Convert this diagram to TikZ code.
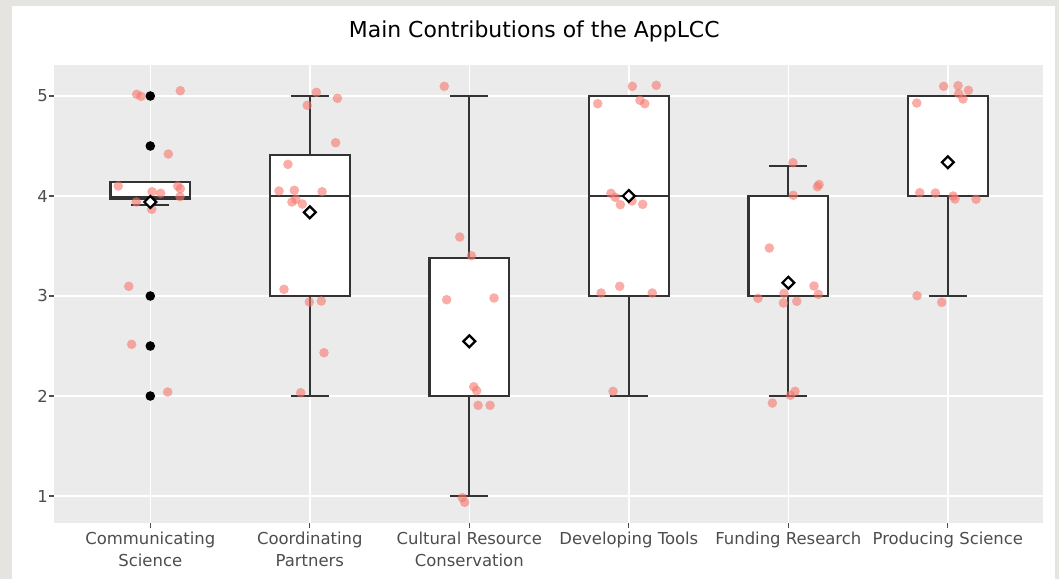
\documentclass[tikz,border=0pt]{standalone}
\usepackage{fontspec}
\setmainfont{DejaVu Sans}
\usepackage{xcolor}
\usetikzlibrary{shapes.geometric}
\definecolor{pagegray}{HTML}{E6E4E0}
\definecolor{panelgray}{HTML}{EBEBEB}
\definecolor{boxgray}{HTML}{333333}
\definecolor{labelgray}{HTML}{4D4D4D}
\definecolor{salmon}{HTML}{F8766D}
\tikzset{
	panel/.style={fill=panelgray},%
	gridline/.style={white,line width=1pt},%
	tickline/.style={labelgray,line width=0.8pt},%
	ylabel/.style={labelgray,anchor=east,inner sep=0pt,font=\fontsize{11.7}{14}\selectfont},%
	xlabel/.style={labelgray,anchor=north,align=center,inner sep=0pt,font=\fontsize{11.7}{15.4}\selectfont},%
	boxline/.style={boxgray,line width=1.6pt,fill=white},%
	whisker/.style={boxgray,line width=1.6pt},%
	jitter/.style={fill=salmon,fill opacity=0.6},%
	outlier/.style={fill=black},%
	meanmark/.style={diamond,draw=black,fill=white,line width=1.6pt,minimum size=0.32cm,inner sep=0pt},%
}
\def\boxhalf{0.25}
\def\caphalf{0.12}
% x, lower whisker, q1, median, q3, upper whisker, mean
\newcommand{\drawbox}[7]{%
	\draw[whisker] (#1,#3) -- (#1,#2) (#1-\caphalf,#2) -- (#1+\caphalf,#2);%
	\draw[whisker] (#1,#5) -- (#1,#6) (#1-\caphalf,#6) -- (#1+\caphalf,#6);%
	\draw[boxline] (#1-\boxhalf,#3) rectangle (#1+\boxhalf,#5);%
	\draw[whisker] (#1-\boxhalf,#4) -- (#1+\boxhalf,#4);%
	\coordinate (mean#1) at (#1,#7);%
}

\begin{document}
\begin{tikzpicture}[x=3.9875cm,y=2.5cm]
	\useasboundingbox[fill=pagegray] (0.0577,0.17) rectangle (6.697,5.96);
	\fill[white] (0.133,0.17) rectangle (6.672,5.90);
	\node[font=\fontsize{15.6}{18}\selectfont,anchor=base] (title) at (3.407,5.583) {Main Contributions of the AppLCC};
	% panel and grid
	\fill[panel] (0.396,0.73) rectangle (6.597,5.31);
	\foreach \v in {1,...,5} {
		\draw[gridline] (0.396,\v) -- (6.597,\v);
		\draw[tickline] (0.368,\v) -- (0.396,\v);
		\node[ylabel] (ytick\v) at (0.3586,\v) {\v};
	}
	\foreach \c in {1,...,6} {
		\draw[gridline] (\c,0.73) -- (\c,5.31);
		\draw[tickline] (\c,0.73) -- (\c,0.68);
	}
	\node[xlabel] (xtick1) at (1,0.64) {Communicating\\Science};
	\node[xlabel] (xtick2) at (2,0.64) {Coordinating\\Partners};
	\node[xlabel] (xtick3) at (3,0.64) {Cultural Resource\\Conservation};
	\node[xlabel] (xtick4) at (4,0.64) {Developing Tools};
	\node[xlabel] (xtick5) at (5,0.64) {Funding Research};
	\node[xlabel] (xtick6) at (6,0.64) {Producing Science};
	% boxes
	\drawbox{1}{3.907}{3.97}{3.985}{4.137}{4.137}{3.94}
	\drawbox{2}{2}{3}{4}{4.407}{5}{3.837}
	\drawbox{3}{1}{2}{2}{3.38}{5}{2.547}
	\drawbox{4}{2}{3}{4}{5}{5}{4}
	\drawbox{5}{2}{3}{3}{4}{4.3}{3.133}
	\drawbox{6}{3}{4}{4}{5}{5}{4.337}
	% jittered answers
	\foreach \px/\py in {0.915/5.017,0.942/4.997,1.188/5.053,1.113/4.42,0.799/4.10,1.011/4.043,1.065/4.027,1.172/4.10,1.188/4.073,1.186/3.993,0.912/3.94,1.009/3.867,0.865/3.097,0.883/2.517,1.109/2.04,%
		2.041/5.037,2.173/4.977,1.984/4.907,2.162/4.533,1.863/4.317,1.807/4.05,1.903/4.057,2.077/4.043,1.888/3.94,1.913/3.967,1.953/3.92,1.838/3.067,1.997/2.94,2.072/2.95,2.089/2.433,1.943/2.033,%
		2.843/5.097,2.940/3.59,3.013/3.403,2.858/2.963,3.155/2.98,3.028/2.093,3.046/2.053,3.055/1.907,3.13/1.907,2.956/0.983,2.971/0.937,%
		4.022/5.097,4.172/5.107,3.805/4.923,4.07/4.957,4.1/4.923,3.888/4.027,3.915/3.987,3.947/3.913,4.087/3.917,4.02/3.95,3.826/3.03,3.943/3.097,4.147/3.03,3.901/2.047,%
		5.029/4.333,5.182/4.093,5.193/4.115,5.031/4.007,4.881/3.48,5.161/3.10,4.973/3.027,4.81/2.977,5.188/3.017,4.969/2.93,5.053/2.947,5.042/2.047,5.013/2.007,4.9/1.93,%
		5.974/5.097,6.064/5.103,6.129/5.057,6.068/5.023,6.095/4.97,5.805/4.93,5.824/4.033,5.922/4.03,6.033/4.0,6.045/3.97,6.177/3.967,5.807/3.003,5.962/2.937}
		\fill[jitter] (\px,\py) circle (0.12cm);
	% outliers
	\foreach \py in {5,4.5,3,2.5,2}
		\fill[outlier] (1,\py) circle (0.12cm);
	% means
	\foreach \c in {1,...,6}
		\node[meanmark] (diamond\c) at (mean\c) {};
\end{tikzpicture}
\end{document}
